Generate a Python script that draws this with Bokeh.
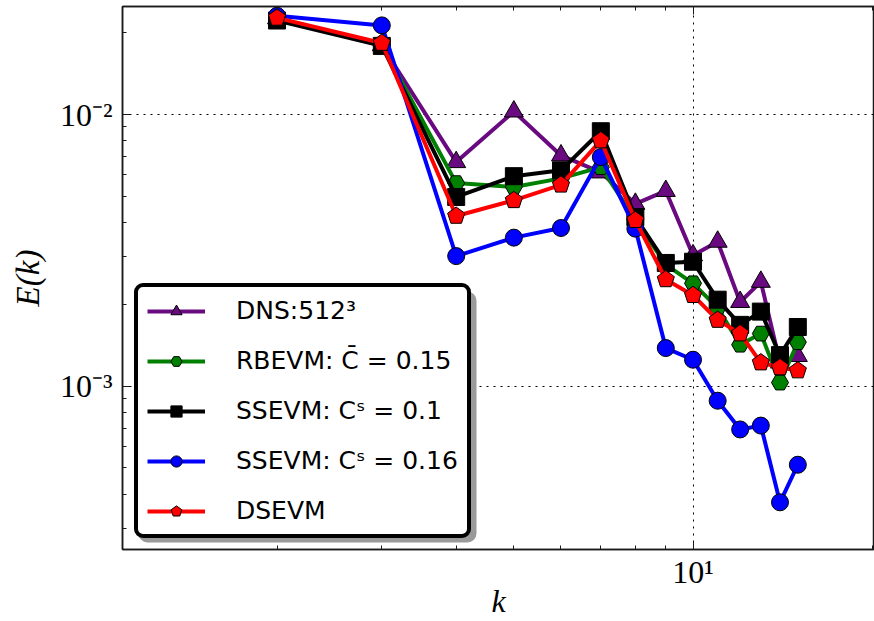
import math
from bokeh.plotting import figure
from bokeh.models import (FixedTicker, LogAxis, CustomJSTickFormatter, Legend, LegendItem,
                          Range1d, BoxAnnotation)
from bokeh.embed import file_html
from bokeh.resources import INLINE

# ---------------- data ----------------
k = [2, 3, 4, 5, 6, 7, 8, 9, 10, 11, 12, 13, 14, 15]

dns_512 = [0.0226, 0.0180, 0.00668, 0.01026, 0.00707, 0.00612, 0.00469,
           0.00523, 0.00303, 0.00340, 0.00204, 0.00242, 0.00122, 0.00129]
rbevm_015 = [0.0225, 0.0180, 0.00559, 0.00541, 0.00582, 0.00640, 0.00410,
             0.00280, 0.00239, 0.00194, 0.00142, 0.00156, 0.00103, 0.00145]
ssevm_010 = [0.0222, 0.0179, 0.00497, 0.00593, 0.00623, 0.00868, 0.00419,
             0.00284, 0.00287, 0.00208, 0.00168, 0.00188, 0.00130, 0.00165]
ssevm_016 = [0.0231, 0.0213, 0.00301, 0.00352, 0.00382, 0.00697, 0.00380,
             0.00138, 0.00125, 0.000883, 0.000692, 0.000715, 0.000373, 0.000513]
dsevm = [0.0227, 0.01834, 0.00423, 0.00483, 0.00551, 0.00802, 0.00408,
         0.00247, 0.00216, 0.00175, 0.00156, 0.00122, 0.00117, 0.00114]

labels = ["DNS:512³", "RBEVM: C̄ = 0.15", "SSEVM: Cˢ = 0.1",
          "SSEVM: Cˢ = 0.16", "DSEVM"]

x_major = [10]
x_minor = [2, 3, 4, 5, 6, 7, 8, 9, 20]
y_major = [1e-3, 1e-2]
y_minor = [3e-4, 4e-4, 5e-4, 6e-4, 7e-4, 8e-4, 9e-4,
           2e-3, 3e-3, 4e-3, 5e-3, 6e-3, 7e-3, 8e-3, 9e-3, 2e-2]

# ---------------- figure ----------------
p = figure(width=874, height=621, x_axis_type="log", y_axis_type="log",
           x_range=Range1d(1.1, 20.18), y_range=Range1d(2.5e-4, 2.5e-2),
           output_backend="svg", toolbar_location=None,
           min_border_left=122, min_border_right=0, min_border_top=6,
           min_border_bottom=71)
p.outline_line_color = "#1a1a1a"
p.outline_line_width = 1.5
p.background_fill_color = "white"
p.border_fill_color = "white"

xt = FixedTicker(ticks=x_major, minor_ticks=x_minor)
yt = FixedTicker(ticks=y_major, minor_ticks=y_minor)

fmt = CustomJSTickFormatter(code="""
const e = Math.round(Math.log10(tick));
const sup = {'-':'\u207b','0':'\u2070','1':'\u00b9','2':'\u00b2','3':'\u00b3',
             '4':'\u2074','5':'\u2075','6':'\u2076','7':'\u2077','8':'\u2078','9':'\u2079'};
return '10' + String(e).split('').map(c => sup[c]).join('');
""")

def style_axis(ax):
    ax.axis_line_color = "#1a1a1a"
    ax.axis_line_width = 1.5
    ax.major_tick_in = 8
    ax.major_tick_out = 0
    ax.minor_tick_in = 4
    ax.minor_tick_out = 0
    ax.major_tick_line_color = "#1a1a1a"
    ax.minor_tick_line_color = "#1a1a1a"

xa = p.xaxis[0]
ya = p.yaxis[0]
xa.ticker = xt
ya.ticker = yt
xa.formatter = fmt
ya.formatter = fmt
for ax in (xa, ya):
    style_axis(ax)
    ax.major_label_text_font = "Liberation Serif"
    ax.major_label_text_font_size = "32px"
    ax.major_label_text_color = "black"
    ax.axis_label_text_font = "Liberation Serif"
    ax.axis_label_text_font_style = "italic"
    ax.axis_label_text_color = "black"
xa.axis_label = "k"
xa.axis_label_text_font_size = "32px"
xa.major_label_standoff = 4
xa.axis_label_standoff = -10
ya.axis_label = "E(k)"
ya.axis_label_text_font_size = "33px"
ya.major_label_standoff = 10
ya.axis_label_standoff = 11

top = LogAxis(ticker=xt, major_label_text_font_size="1px",
              major_label_text_alpha=0, major_label_standoff=0)
style_axis(top)
p.add_layout(top, "above")

p.xgrid.ticker = xt
p.ygrid.ticker = yt
for g in (p.xgrid[0], p.ygrid[0]):
    g.grid_line_color = "black"
    g.grid_line_alpha = 1.0
    g.grid_line_dash = "2 5"
    g.grid_line_width = 1

# ---------------- series ----------------
series = [
    (dns_512, "#6a0a80", "triangle"),
    (rbevm_015, "#008000", "hex"),
    (ssevm_010, "black", "square"),
    (ssevm_016, "#0000ff", "circle"),
    (dsevm, "#ff0000", "pentagon"),
]
sizes = {"triangle": 19, "hex": 17, "square": 17, "circle": 17}

items = []
for (vals, col, mk), lab in zip(series, labels):
    lr = p.line(k, vals, line_color=col, line_width=4)
    if mk == "pentagon":
        mr = p.ngon(x=k, y=vals, radius=9, radius_units="screen", n=5,
                    angle=0, fill_color=col, line_color="black",
                    line_width=1)
    else:
        mr = p.scatter(k, vals, marker=mk, size=sizes[mk], fill_color=col,
                       line_color="black", line_width=1)
    items.append(LegendItem(label=lab, renderers=[lr, mr]))

# legend drop shadow (screen units, relative to the plot frame)
shadow = BoxAnnotation(left=16, right=354, bottom=7, top=258,
                       left_units="screen", right_units="screen",
                       bottom_units="screen", top_units="screen",
                       fill_color="#9a9a9a", fill_alpha=1.0, line_color=None)
try:
    shadow.border_radius = 9
except Exception:
    pass
p.add_layout(shadow)

legend = Legend(items=items, location=(12, 11), margin=0, padding=9, spacing=21,
                glyph_width=58, glyph_height=28, label_height=28, label_standoff=31,
                label_text_font="DejaVu Sans", label_text_font_size="25px",
                label_text_color="black",
                border_line_color="black", border_line_width=4, border_line_alpha=1.0,
                background_fill_color="white", background_fill_alpha=1.0)
try:
    legend.border_radius = 9
except Exception:
    pass
p.add_layout(legend)

open("out.html", "w").write(file_html(p, INLINE))
